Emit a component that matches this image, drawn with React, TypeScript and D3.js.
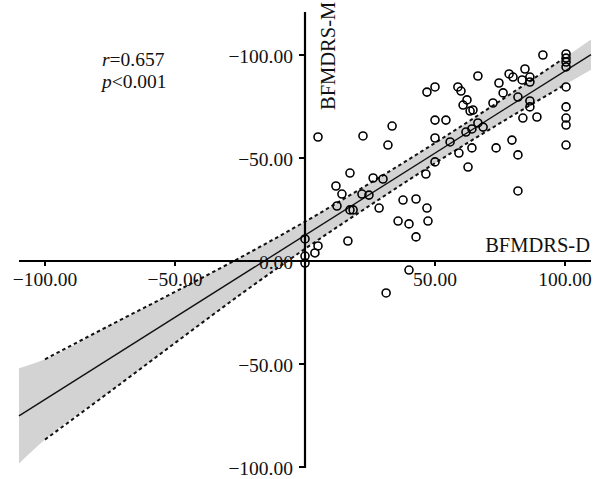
import * as d3 from "d3";

const WIDTH = 600;
const HEIGHT = 479;
const FONT = "'Liberation Serif', 'Times New Roman', serif";

// scatter points (BFMDRS-D, BFMDRS-M)
const pointsX = [
  5.0, 22.3, 31.9, 33.5, 46.9, 50.0, 50.0, 54.2, 50.0, 58.8, 60.0, 60.8, 62.3, 63.5, 64.6, 66.5,
  59.2, 64.2, 61.9, 64.2, 66.5, 68.5, 72.3, 74.6, 76.2, 78.5, 80.0, 81.9, 83.5, 84.6, 86.5, 86.5,
  86.5, 86.5, 83.8, 89.2, 79.6, 73.5, 81.9, 91.5, 100.4, 100.4, 100.4, 100.4, 100.4, 100.4, 100.4,
  100.4, 100.4, 55.8, 62.7, 50.0, 46.5, 81.9, 17.3, 11.9, 14.2, 26.2, 30.0, 21.9, 24.6, 12.3, 17.3,
  18.5, 28.5, 37.7, 42.7, 46.9, 35.8, 40.0, 47.3, 42.7, 16.5, 0, 5.0, 3.8, 0, 0, 40.0, 31.2,
];
const pointsY = [
  60.2, 60.7, 56.3, 65.5, 82.0, 84.5, 68.4, 68.4, 59.7, 84.5, 82.5, 75.7, 78.2, 72.8, 73.3, 89.8,
  52.4, 54.9, 62.6, 64.1, 67.0, 65.0, 76.7, 86.4, 81.6, 90.8, 89.3, 79.6, 87.9, 93.2, 89.3, 86.9,
  77.7, 74.8, 69.4, 69.9, 58.7, 54.9, 51.5, 100.0, 100.5, 98.5, 96.6, 94.2, 84.5, 74.8, 69.4,
  66.0, 56.3, 57.8, 45.6, 48.1, 42.2, 34.0, 42.7, 36.4, 32.5, 40.3, 39.8, 32.5, 32.0, 26.7, 24.8,
  24.8, 25.7, 29.6, 30.1, 25.7, 19.4, 18.0, 19.4, 11.7, 9.7, 10.7, 7.3, 3.9, 2.4, -1.0, -4.4, -15.5,
];

// fitted line and its confidence band
const fitX = [-110, 110];
const fitY = [-75.2, 100.2];
const bandX = [-110, -100, -75, -50, -25, 0, 25, 50, 75, 100, 110];
const bandUpper = [-52.1, -47.7, -31.2, -15.0, 1.6, 19.1, 37.8, 57.3, 77.7, 98.8, 107.5];
const bandLower = [-98.3, -86.7, -63.4, -39.8, -16.4, 5.9, 27.0, 47.5, 66.9, 85.6, 92.9];

const xTicks = [-100, -50, 50, 100];
const xTickLabels = ["\u2212100.00", "\u221250.00", "50.00", "100.00"];
const yTicks = [100, 50, 0, -50, -100];
const yTickLabels = ["\u2212100.00", "\u221250.00", "0.00", "\u221250.00", "\u2212100.00"];

export default function App() {
  const xScale = d3.scaleLinear().domain([-110, 110]).range([19, 591]);
  const yScale = d3.scaleLinear().domain([-100, 100]).range([467, 55]);
  const x0 = xScale(0);
  const y0 = yScale(0);

  const band = bandX.map((x, i) => ({ x, lo: bandLower[i], hi: bandUpper[i] }));
  const area = d3
    .area<{ x: number; lo: number; hi: number }>()
    .x((d) => xScale(d.x))
    .y0((d) => yScale(d.lo))
    .y1((d) => yScale(d.hi))
    .curve(d3.curveMonotoneX);
  const edge = (key: "lo" | "hi") =>
    d3
      .line<{ x: number; lo: number; hi: number }>()
      .x((d) => xScale(d.x))
      .y((d) => yScale(d[key]))
      .curve(d3.curveMonotoneX);
  const dashedPart = band.filter((d) => d.x >= -100 && d.x <= 100);
  const fitLine = d3
    .line<number>()
    .x((d) => xScale(d))
    .y((_, i) => yScale(fitY[i]));

  return (
    <svg
      width={WIDTH}
      height={HEIGHT}
      style={{ position: "absolute", left: 0, top: 0, background: "#fff" }}
      fontFamily={FONT}
    >
      <path d={area(band) ?? ""} fill="#d3d3d3" />
      <path d={edge("hi")(dashedPart) ?? ""} fill="none" stroke="#111" strokeWidth={2} strokeDasharray="3.5 3" />
      <path d={edge("lo")(dashedPart) ?? ""} fill="none" stroke="#111" strokeWidth={2} strokeDasharray="3.5 3" />
      <path d={fitLine(fitX) ?? ""} fill="none" stroke="#111" strokeWidth={1.4} />

      {/* x axis */}
      <line x1={19} x2={591} y1={y0} y2={y0} stroke="#000" strokeWidth={2.2} />
      {xTicks.map((t, i) => (
        <g key={"x" + t} transform={`translate(${xScale(t)},${y0})`}>
          <line y1={0} y2={5} stroke="#000" strokeWidth={2} />
          <text y={25} textAnchor="middle" fontSize={19.5} fill="#111">
            {xTickLabels[i]}
          </text>
        </g>
      ))}

      {/* y axis */}
      <line x1={x0} x2={x0} y1={12} y2={yScale(-100) + 1} stroke="#000" strokeWidth={2.2} />
      {yTicks.map((t, i) => (
        <g key={"y" + t + i} transform={`translate(${x0},${yScale(t)})`}>
          <line x1={-6} x2={0} stroke="#000" strokeWidth={2} />
          <text x={-12} dy="0.4em" textAnchor="end" fontSize={19.5} fill="#111">
            {yTickLabels[i]}
          </text>
        </g>
      ))}

      {pointsX.map((x, i) => (
        <circle
          key={i}
          cx={xScale(x)}
          cy={yScale(pointsY[i])}
          r={4}
          fill="none"
          stroke="#000"
          strokeWidth={1.6}
        />
      ))}

      <text x={590} y={252} textAnchor="end" fontSize={20.5} fill="#111">
        BFMDRS-D
      </text>
      <text transform="translate(335,110) rotate(-90)" fontSize={20.5} fill="#111">
        BFMDRS-M
      </text>

      <text x={102} y={66} fontSize={19.5} fill="#111">
        <tspan fontStyle="italic">r</tspan>=0.657
      </text>
      <text x={102} y={88} fontSize={19.5} fill="#111">
        <tspan fontStyle="italic">p</tspan>&lt;0.001
      </text>
    </svg>
  );
}
